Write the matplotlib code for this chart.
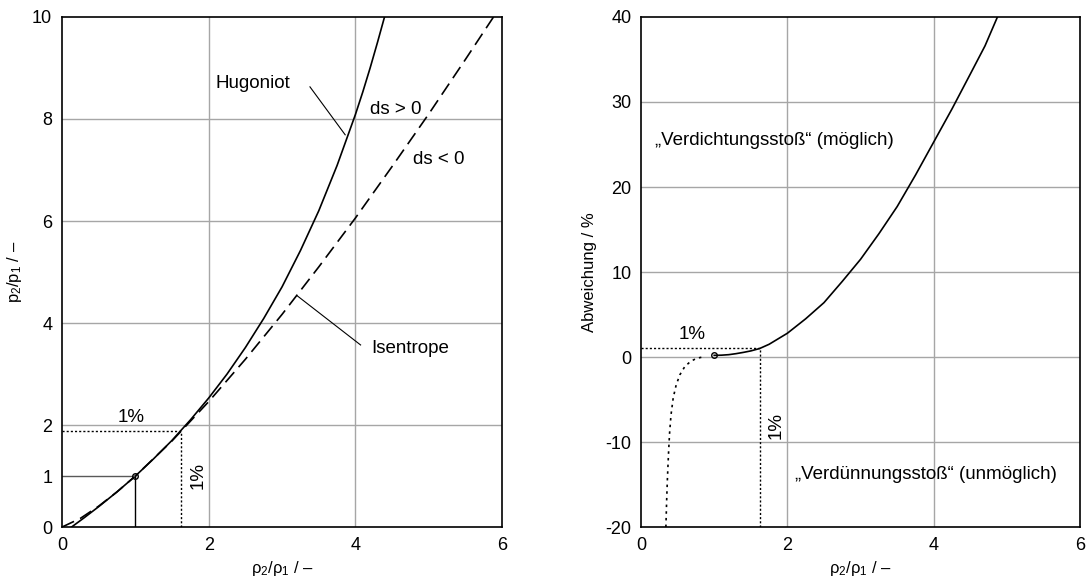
import matplotlib
matplotlib.use("Agg")
import matplotlib.pyplot as plt

plt.rcParams["font.family"] = ["Liberation Sans", "DejaVu Sans"]
plt.rcParams["font.size"] = 13.5
plt.rcParams["axes.unicode_minus"] = False
plt.rcParams["mathtext.fontset"] = "custom"
plt.rcParams["mathtext.rm"] = "Liberation Sans"
plt.rcParams["mathtext.it"] = "Liberation Sans:italic"

# --- left panel: pressure ratio over density ratio ---
hug_rho = [0.13, 0.3, 0.5, 0.75, 1.0, 1.25, 1.5, 1.75, 2.0, 2.25, 2.5, 2.75,
           3.0, 3.25, 3.5, 3.75, 4.0, 4.1, 4.2, 4.3, 4.4]
hug_p = [0.0, 0.18, 0.40, 0.69, 1.0, 1.34, 1.70, 2.10, 2.53, 3.0, 3.52, 4.09,
         4.71, 5.42, 6.2, 7.09, 8.09, 8.53, 9.0, 9.5, 10.02]
isen_rho = [0.0, 0.25, 0.5, 0.75, 1.0, 1.5, 2.0, 2.5, 3.0, 3.5, 4.0, 4.5,
            5.0, 5.5, 5.9]
isen_p = [0.0, 0.17, 0.41, 0.69, 1.0, 1.69, 2.46, 3.29, 4.17, 5.10, 6.06,
          7.07, 8.10, 9.17, 10.04]
ref_pt = (1.0, 1.0)
one_pct = (1.62, 1.88)

# --- right panel: deviation Hugoniot vs isentrope ---
dev_rho = [1.0, 1.1, 1.2, 1.3, 1.4, 1.5, 1.62, 1.75, 2.0, 2.25, 2.5, 2.75,
           3.0, 3.25, 3.5, 3.75, 4.0, 4.25, 4.5, 4.7, 4.87]
dev_pct = [0.2, 0.22, 0.28, 0.4, 0.55, 0.72, 1.0, 1.5, 2.8, 4.5, 6.4, 8.9,
           11.5, 14.5, 17.7, 21.4, 25.3, 29.2, 33.3, 36.6, 40.0]
dev_low_rho = [0.34, 0.35, 0.36, 0.375, 0.39, 0.41, 0.44, 0.48, 0.53, 0.6,
               0.68, 0.76, 0.84]
dev_low_pct = [-20, -17, -14.5, -11.5, -9, -6.8, -4.8, -3.3, -2.1, -1.1,
               -0.5, -0.15, 0.0]
dev_ref = (1.0, 0.2)
dev_one = (1.62, 1.05)

GRID = "0.65"
fig = plt.figure(figsize=(10.87, 5.85), dpi=100)
axL = fig.add_axes([0.057, 0.099, 0.405, 0.872])
axR = fig.add_axes([0.5897, 0.099, 0.404, 0.872])


def style(ax):
    for s in ax.spines.values():
        s.set_linewidth(1.2)
    ax.tick_params(length=0, pad=7, labelsize=13)


# left
for y in (2, 4, 6, 8):
    axL.axhline(y, color=GRID, lw=1, zorder=0)
for x in (2, 4):
    axL.axvline(x, color=GRID, lw=1, zorder=0)
axL.plot(hug_rho, hug_p, color="k", lw=1.2)
axL.plot(isen_rho, isen_p, color="k", lw=1.2, dashes=(8, 4))
axL.plot([0, ref_pt[0]], [ref_pt[1], ref_pt[1]], color="0.35", lw=1)
axL.plot([ref_pt[0], ref_pt[0]], [0, ref_pt[1]], color="k", lw=1)
axL.plot([0, one_pct[0]], [one_pct[1], one_pct[1]], color="k", lw=1, dashes=(1.5, 1.5))
axL.plot([one_pct[0], one_pct[0]], [0, one_pct[1]], color="k", lw=1, dashes=(1.5, 1.5))
axL.plot(*ref_pt, "o", ms=4, mfc="none", mec="k", mew=1)
axL.plot([3.38, 3.86], [8.63, 7.69], color="k", lw=0.8)
axL.text(2.09, 8.7, "Hugoniot", va="center")
axL.text(4.2, 8.18, "ds > 0", va="center")
axL.text(4.78, 7.2, "ds < 0", va="center")
axL.plot([3.21, 4.07], [4.53, 3.57], color="k", lw=0.8)
axL.text(4.21, 3.51, "Isentrope", va="center")
axL.text(0.94, 2.14, "1%", ha="center", va="center")
axL.text(1.86, 1.02, "1%", ha="center", va="center", rotation=90)
axL.set_xlim(0, 6); axL.set_ylim(0, 10)
axL.set_xticks([0, 2, 4, 6]); axL.set_yticks([0, 1, 2, 4, 6, 8, 10])
axL.set_xlabel("ρ$_2$/ρ$_1$ / –", fontsize=12, labelpad=4)
axL.set_ylabel("p$_2$/p$_1$ / –", fontsize=12, labelpad=6)
style(axL)

# right
for y in (-10, 0, 10, 20, 30):
    axR.axhline(y, color=GRID, lw=1, zorder=0)
for x in (2, 4):
    axR.axvline(x, color=GRID, lw=1, zorder=0)
axR.plot(dev_rho, dev_pct, color="k", lw=1.2)
axR.plot(dev_low_rho, dev_low_pct, color="k", lw=1.2, dashes=(1.5, 2.5))
axR.plot([0, dev_one[0]], [dev_one[1], dev_one[1]], color="k", lw=1, dashes=(1.5, 1.5))
axR.plot([dev_one[0], dev_one[0]], [-20, dev_one[1]], color="k", lw=1, dashes=(1.5, 1.5))
axR.plot(*dev_ref, "o", ms=4, mfc="none", mec="k", mew=1)
axR.text(0.19, 25.5, "„Verdichtungsstoß“ (möglich)", va="center")
axR.text(2.1, -13.8, "„Verdünnungsstoß“ (unmöglich)", va="center")
axR.text(0.7, 2.6, "1%", ha="center", va="center")
axR.text(1.84, -8, "1%", ha="center", va="center", rotation=90)
axR.set_xlim(0, 6); axR.set_ylim(-20, 40)
axR.set_xticks([0, 2, 4, 6]); axR.set_yticks([-20, -10, 0, 10, 20, 30, 40])
axR.set_xlabel("ρ$_2$/ρ$_1$ / –", fontsize=12, labelpad=4)
axR.set_ylabel("Abweichung / %", fontsize=12, labelpad=6)
style(axR)

fig.savefig("out.png", dpi=100)
